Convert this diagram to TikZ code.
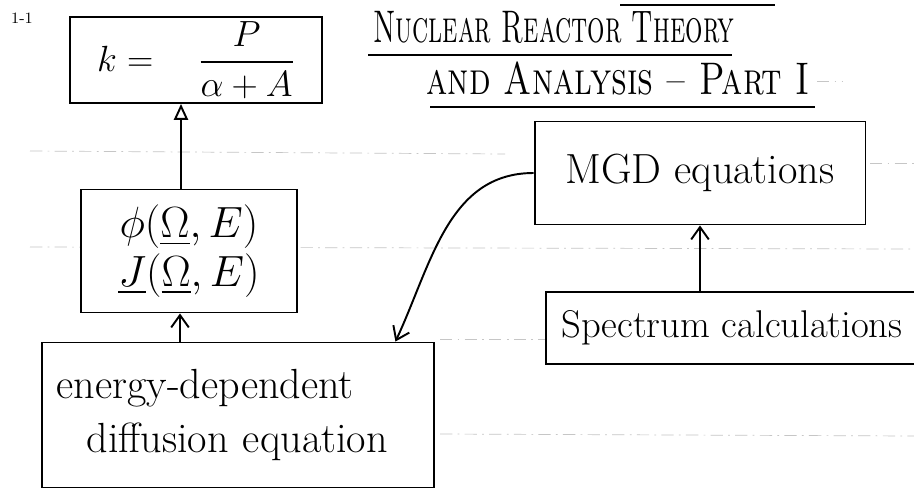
\documentclass[tikz,border=0pt]{standalone}
\usepackage{amsmath,amssymb}
\usepackage{graphicx}
\usepackage{tikz}
\usetikzlibrary{arrows.meta, positioning}

\tikzset{
  box/.style={draw, line width=1.1pt, fill=white, inner sep=0pt, align=center},
  ruled/.style={gray!45, thin, dash pattern=on 7pt off 3pt on 1pt off 3pt},
  pen/.style={line width=1.1pt, -{Straight Barb[length=7pt,width=10pt]}},
}

\begin{document}
\begin{tikzpicture}[x=0.02cm, y=-0.02cm]

% page
\clip (0,0) rectangle (914,491);
\fill[white] (0,0) rectangle (914,491);

%% ruled lines of the paper
\draw[ruled] (30,151) -- (505,154);
\draw[ruled] (30,247) -- (914,249);
\draw[ruled] (440,339) -- (545,339);
\draw[ruled] (440,434) -- (914,436);
\draw[ruled] (817,81) -- (842,81);
\draw[ruled] (870,163) -- (914,163);

%% page number
\node[font=\small] (pageno) at (22,18) {1-1};

% title
\draw[line width=1pt] (620,5) -- (775,5);
\node (title1) at (554,27)
  {\scalebox{0.60}[1]{\fontsize{26}{30}\selectfont\textsc{Nuclear Reactor Theory}}};
\draw[line width=1pt] (368,55) -- (732,55);
\node (title2) at (618,78)
  {\scalebox{0.76}[1]{\fontsize{26}{30}\selectfont\textsc{and Analysis -- Part I}}};
\draw[line width=1pt] (430,107) -- (815,107);

% boxes
\node[box, minimum width=5.04cm, minimum height=1.72cm] (keff) at (196,60)
  {\fontsize{20}{24}\selectfont $k = \quad \dfrac{P}{\alpha + A}$};
\node[box, minimum width=4.32cm, minimum height=2.46cm] (flux) at (189,251)
  {\fontsize{24}{34}\selectfont $\phi(\underline{\Omega},E)$\\[2pt]
   \fontsize{24}{34}\selectfont $\underline{J}(\underline{\Omega},E)$};
\node[box, minimum width=7.86cm, minimum height=2.9cm, text width=7.26cm, inner xsep=0.3cm,
      align=left, font=\fontsize{24}{31}\selectfont] (diff) at (238,415)
  {energy-dependent\\ \hspace*{0.6cm}diffusion equation};
\node[box, minimum width=6.62cm, minimum height=2.06cm, font=\fontsize{24}{30}\selectfont] (mgd) at (700,173)
  {MGD equations};
\node[box, minimum width=7.44cm, minimum height=1.44cm, font=\fontsize{22}{26}\selectfont] (spec) at (732,328)
  {Spectrum calculations};

% connectors
\draw[line width=1.1pt, -{Triangle[open,length=9pt,width=8pt]}] (flux.north -| 181,0) -- (keff.south -| 181,0);
\draw[pen] (diff.north -| 180,0) -- (flux.south -| 180,0);
\draw[pen] (spec.north -| mgd.south) -- (mgd.south);
\draw[pen] (mgd.west) to[out=180, in=65] ([xshift=-0.8cm]diff.north east);

\end{tikzpicture}
\end{document}
